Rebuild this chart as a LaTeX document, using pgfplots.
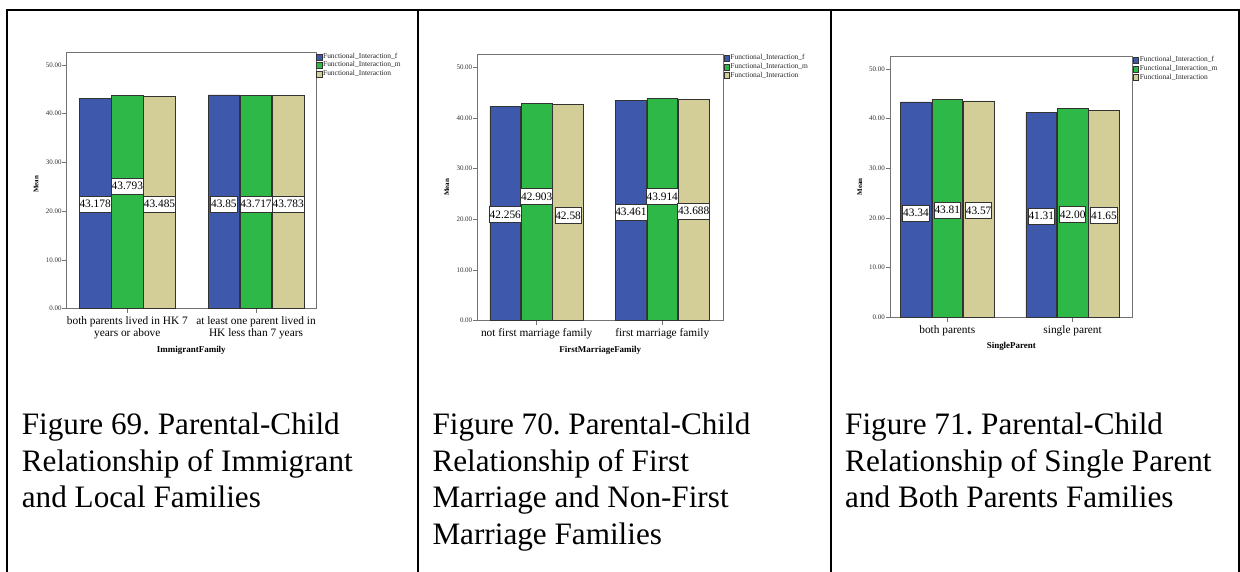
\documentclass[border=0pt]{standalone}
\usepackage{pgfplots}
\pgfplotsset{compat=1.18}
\usepackage{fontspec}
\setmainfont{Liberation Serif}
\frenchspacing
\definecolor{cf}{RGB}{62,88,172}
\definecolor{cm}{RGB}{46,184,72}
\definecolor{ct}{RGB}{211,206,151}

\pgfplotsset{
  spss/.style={
    scale only axis,
    anchor=south west,
    ymin=0, ymax=52.6,
    ytick={0,10,20,30,40,50},
    yticklabel={\pgfmathprintnumber[fixed,fixed zerofill,precision=2]{\tick}},
    /pgf/number format/assume math mode=true,
    xtick={0,1},
    tick pos=left, tick align=outside,
    major tick length=4.5bp,
    axis line style={draw=black!55, line width=0.7bp},
    tick style={draw=black!55, line width=0.6bp},
    yticklabel style={font=\fontsize{7}{7}\selectfont, text=black!80, inner sep=0.4bp},
    xticklabel style={font=\fontsize{11.4}{11.3}\selectfont, align=center, anchor=north, inner sep=0pt, yshift=-3.5bp},
    ylabel={Mean},
    ylabel style={font=\fontsize{7}{7}\selectfont\bfseries, anchor=center},
    xlabel style={font=\fontsize{9}{9}\selectfont\bfseries, anchor=base},
    legend style={at={(1,1)}, anchor=north west, draw=none, fill=none, inner sep=0pt, row sep=0pt,
      font=\fontsize{7.5}{8.6}\selectfont, text=black!85,
      nodes={inner ysep=0.3bp, inner xsep=1bp, text height=5.5bp, text depth=2.5bp}},
    legend cell align=left,
  },
  spssbar/.style={ybar, bar width=0.245, bar shift=0pt, draw=black!80, line width=0.7bp,
    /pgfplots/legend image code/.code={\draw[##1, line width=0.4bp] (0bp,-3bp) rectangle (5.5bp,3bp);}},
  vals/.style={draw=none, mark=none, forget plot, nodes near coords, point meta=explicit symbolic,
    nodes near coords style={anchor=center, draw=black!80, line width=0.7bp, fill=white, text=black,
      font=\fontsize{11.4}{11.4}\selectfont, inner xsep=0.4bp, inner ysep=3.9bp, text height=7.9bp, text depth=0.3bp}},
}

\begin{document}
\begin{tikzpicture}
\path[use as bounding box] (0,0) rectangle (1240bp,572bp);

% table rules
\draw[line width=2bp] (6bp,562bp) -- (1240bp,562bp);
\draw[line width=2bp] (7bp,563bp) -- (7bp,0bp);
\draw[line width=2bp] (418bp,563bp) -- (418bp,0bp);
\draw[line width=2bp] (831bp,563bp) -- (831bp,0bp);
\draw[line width=2bp] (1239bp,563bp) -- (1239bp,0bp);

% ---------- Panel 1 ----------
\begin{axis}[spss, at={(66.7bp,263.3bp)}, width=249.3bp, height=256.4bp,
  xmin=-0.471, xmax=1.466,
  xticklabels={{both parents lived in HK 7\\years or above},{at least one parent lived in\\HK less than 7 years}},
  xlabel={ImmigrantFamily},
  xlabel style={at={(axis description cs:0.5,-0.170)}},
  ylabel style={at={(axis description cs:-0.123,0.485)}}]
\addplot[spssbar, fill=cf] coordinates {(-0.25,43.178) (0.75,43.85)};
\addlegendentry{Functional\_Interaction\_f}
\addplot[spssbar, fill=cm] coordinates {(0,43.793) (1,43.717)};
\addlegendentry{Functional\_Interaction\_m}
\addplot[spssbar, fill=ct] coordinates {(0.25,43.485) (1.25,43.783)};
\addlegendentry{Functional\_Interaction}
\addplot[vals] coordinates {(-0.25,21.5) [43.178] (0,25.2) [43.793] (0.25,21.5) [43.485]
  (0.75,21.5) [43.85] (1,21.5) [43.717] (1.25,21.5) [43.783]};
\end{axis}

% ---------- Panel 2 ----------
\begin{axis}[spss, at={(477.3bp,251.3bp)}, width=246bp, height=266.7bp,
  xmin=-0.473, xmax=1.486,
  xticklabels={{not first marriage family},{first marriage family}},
  xlabel={FirstMarriageFamily},
  xlabel style={at={(axis description cs:0.5,-0.1185)}},
  ylabel style={at={(axis description cs:-0.124,0.5)}}]
\addplot[spssbar, fill=cf] coordinates {(-0.25,42.256) (0.75,43.461)};
\addlegendentry{Functional\_Interaction\_f}
\addplot[spssbar, fill=cm] coordinates {(0,42.903) (1,43.914)};
\addlegendentry{Functional\_Interaction\_m}
\addplot[spssbar, fill=ct] coordinates {(0.25,42.58) (1.25,43.688)};
\addlegendentry{Functional\_Interaction}
\addplot[vals] coordinates {(-0.25,21.0) [42.256] (0,24.5) [42.903] (0.25,20.8) [42.58]
  (0.75,21.4) [43.461] (1,24.5) [43.914] (1.25,21.6) [43.688]};
\end{axis}

% ---------- Panel 3 ----------
\begin{axis}[spss, at={(890bp,254.7bp)}, width=242.7bp, height=261.3bp,
  xmin=-0.457, xmax=1.479,
  xticklabels={{both parents},{single parent}},
  xlabel={SingleParent},
  xlabel style={at={(axis description cs:0.5,-0.121)}},
  ylabel style={at={(axis description cs:-0.124,0.5)}}]
\addplot[spssbar, fill=cf] coordinates {(-0.25,43.34) (0.75,41.31)};
\addlegendentry{Functional\_Interaction\_f}
\addplot[spssbar, fill=cm] coordinates {(0,43.81) (1,42.00)};
\addlegendentry{Functional\_Interaction\_m}
\addplot[spssbar, fill=ct] coordinates {(0.25,43.57) (1.25,41.65)};
\addlegendentry{Functional\_Interaction}
\addplot[vals] coordinates {(-0.25,21.0) [43.34] (0,21.6) [43.81] (0.25,21.5) [43.57]
  (0.75,20.4) [41.31] (1,20.7) [42.00] (1.25,20.5) [41.65]};
\end{axis}

% captions
\begin{scope}[every node/.style={anchor=base west, inner sep=0pt, font=\fontsize{31.3}{36.5}\selectfont}]
\node at (21.7bp,137bp) {Figure 69. Parental-Child};
\node at (21.7bp,100.5bp) {Relationship of Immigrant};
\node at (21.7bp,64bp) {and Local Families};
\node at (432.3bp,137bp) {Figure 70. Parental-Child};
\node at (432.3bp,100.5bp) {Relationship of First};
\node at (432.3bp,64bp) {Marriage and Non-First};
\node at (432.3bp,27.5bp) {Marriage Families};
\node at (845bp,137bp) {Figure 71. Parental-Child};
\node at (845bp,100.5bp) {Relationship of Single Parent};
\node at (845bp,64bp) {and Both Parents Families};
\end{scope}
\end{tikzpicture}
\end{document}
